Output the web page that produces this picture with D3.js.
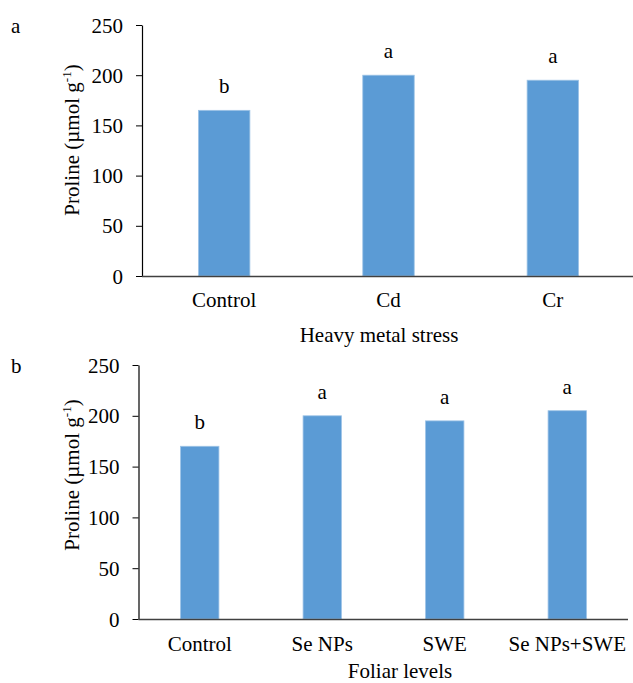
<!DOCTYPE html>
<html><head><meta charset="utf-8">
<script src="https://cdn.jsdelivr.net/npm/d3@7"></script>
<style>body{margin:0;background:#fff}svg{display:block}text{font-family:"Liberation Serif","Times New Roman",serif;fill:#000}</style>
</head><body>
<svg id="c" width="633" height="683"></svg>
<script>
const catsA = ["Control","Cd","Cr"];
const valsA = [165,200,195];
const lettersA = ["b","a","a"];
const catsB = ["Control","Se NPs","SWE","Se NPs+SWE"];
const valsB = [170,200,195,205];
const lettersB = ["b","a","a","a"];
const yTicks = [0,50,100,150,200,250];

const svg = d3.select("#c");
const fs = 21;

function panel(cfg){
  const g = svg.append("g");
  const x = d3.scaleBand().domain(cfg.cats).range([cfg.x0,cfg.x1]).paddingInner(0.687).paddingOuter(0.3435);
  const y = d3.scaleLinear().domain([0,250]).range([cfg.y0,cfg.yTop]);
  g.selectAll("rect").data(cfg.vals).enter().append("rect")
    .attr("x",(d,i)=>x(cfg.cats[i])).attr("width",x.bandwidth())
    .attr("y",d=>y(d)).attr("height",d=>y(0)-y(d))
    .attr("fill","#5B9BD5").attr("stroke","#9DC3E6").attr("stroke-width",0.8);
  g.selectAll("text.let").data(cfg.vals).enter().append("text").attr("class","let")
    .attr("x",(d,i)=>x(cfg.cats[i])+x.bandwidth()/2).attr("y",d=>y(d)-17)
    .attr("text-anchor","middle").attr("font-size",fs).text((d,i)=>cfg.letters[i]);
  const ya = g.append("g").attr("transform",`translate(${cfg.x0},0)`)
    .call(d3.axisLeft(y).tickValues(yTicks).tickSize(6).tickPadding(13).tickSizeOuter(0));
  ya.select(".domain").attr("stroke","#000").attr("stroke-width",1.2);
  ya.selectAll(".tick line").attr("stroke","#000");
  ya.selectAll(".tick text").attr("font-size",fs).attr("font-family","Liberation Serif, serif").attr("fill","#000").attr("dy","0.34em");
  const xa = g.append("g").attr("transform",`translate(0,${cfg.y0})`)
    .call(d3.axisBottom(x).tickSize(0).tickPadding(cfg.xPad));
  xa.select(".domain").attr("stroke","#404040").attr("stroke-width",1.5).attr("d",`M${cfg.x0},0.5H${cfg.axEnd}`);
  xa.selectAll(".tick text").attr("font-size",fs).attr("font-family","Liberation Serif, serif").attr("fill","#000");
  g.append("text").attr("x",cfg.xtX).attr("y",cfg.xtY).attr("text-anchor","middle").attr("font-size",fs).text(cfg.xTitle);
  const yt = g.append("text").attr("transform",`translate(${cfg.ytX},${cfg.ytY}) rotate(-90)`)
    .attr("text-anchor","middle").attr("font-size",fs);
  yt.append("tspan").text("Proline (µmol g");
  yt.append("tspan").attr("font-size",13).attr("dy",-8).text("-1");
  yt.append("tspan").attr("dy",8).text(")");
  g.append("text").attr("x",cfg.plX).attr("y",cfg.plY).attr("font-size",fs).text(cfg.label);
}

panel({cats:catsA,vals:valsA,letters:lettersA,x0:142,x1:635,axEnd:633,y0:276,yTop:25,
  xPad:16,xTitle:"Heavy metal stress",xtX:379,xtY:342,ytX:79,ytY:140,label:"a",plX:11,plY:33});
panel({cats:catsB,vals:valsB,letters:lettersB,x0:138.5,x1:628.5,axEnd:628,y0:619,yTop:365,
  xPad:17,xTitle:"Foliar levels",xtX:400,xtY:678,ytX:79,ytY:475,label:"b",plX:11,plY:373});
</script>
</body></html>
